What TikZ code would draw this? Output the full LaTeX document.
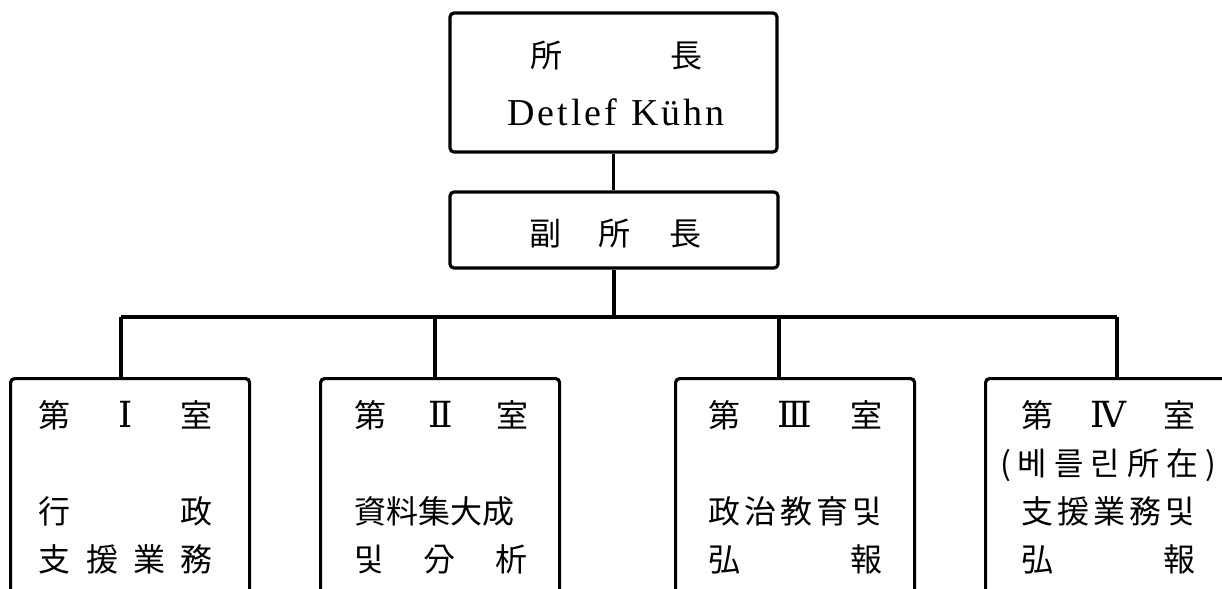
\documentclass[tikz,border=0pt]{standalone}
\usepackage{fontspec}
\newfontfamily\krfont{Noto Sans CJK KR}
\newfontfamily\namefont[LetterSpace=8]{Liberation Serif}
\newfontfamily\numfont{DejaVu Serif}
\usetikzlibrary{positioning}
\newcommand{\spread}[2]{\makebox[#1][s]{#2}}
\newcommand{\roomno}[1]{{\numfont\fontsize{18}{24}\selectfont #1}}
\tikzset{
    frame/.style={
        draw,
        rounded corners=2pt,
        line width=1.6pt,
        inner sep=0pt
    },
    roomframe/.style={
        frame,
        anchor=north west,
        minimum width=119.5pt,
        minimum height=140pt
    },
    label/.style={
        anchor=base,
        align=center,
        inner sep=0pt,
        font=\krfont\fontsize{16}{24}\selectfont
    },
    link/.style={
        line width=1.6pt
    }
}

\begin{document}
\begin{tikzpicture}[x=0.5pt,y=-0.5pt]
\useasboundingbox (0,0) rectangle (1222,589);
\clip (0,0) rectangle (1222,589);
\node[frame,minimum width=163.5pt,minimum height=69.5pt] (head) at (613.5,82.5) {};
\node[frame,minimum width=164pt,minimum height=38pt] (deputy) at (614,230) {};
\node[roomframe] (room1) at (9,377) {};
\node[roomframe] (room2) at (319,377) {};
\node[roomframe] (room3) at (674,377) {};
\node[roomframe,minimum width=140pt] (room4) at (984,377) {};
\node[label,font=\krfont\fontsize{16}{29}\selectfont] (headtext) at (616,125)
  {\spread{86pt}{所\hfill 長}\\{\namefont\fontsize{19}{29}\selectfont Detlef\hspace{7pt}Kühn}};
\node[label] (deputytext) at (615,245) {\spread{86pt}{副\hfill 所\hfill 長}};
\node[label] (room1text) at (126,571)
  {\spread{87pt}{第\hfill\roomno{Ⅰ}\hfill 室}\\[24pt]
   \spread{87pt}{行\hfill 政}\\
   \spread{87pt}{支\hfill 援\hfill 業\hfill 務}};
\node[label] (room2text) at (441,571)
  {\spread{87pt}{第\hfill\roomno{Ⅱ}\hfill 室}\\[24pt]
   \spread{87pt}{資料集大成}\\
   \spread{87pt}{및\hfill 分\hfill 析}};
\node[label] (room3text) at (795,571)
  {\spread{87pt}{第\hfill\roomno{Ⅲ}\hfill 室}\\[24pt]
   \spread{87pt}{政\hfill 治\hfill 教\hfill 育\hfill 및}\\
   \spread{87pt}{弘\hfill 報}};
\node[label] (room4text) at (1108,571)
  {\spread{87pt}{第\hfill\roomno{Ⅳ}\hfill 室}\\
   \spread{108pt}{(\hfill 베\hfill 를\hfill 린\hfill 所\hfill 在\hfill )}\\
   \spread{87pt}{支\hfill 援\hfill 業\hfill 務\hfill 및}\\
   \spread{87pt}{弘\hfill 報}};
\coordinate (busL) at (121,317);
\coordinate (j2) at (435,317);
\coordinate (j3) at (779,317);
\coordinate (busR) at (1117,317);
\draw[link] (head.south) -- (head.south |- deputy.north);
\draw[link] (deputy.south) -- (deputy.south |- busL);
\draw[link] (busL) -- (busR);
\foreach \j/\r in {busL/room1,j2/room2,j3/room3,busR/room4}
  \draw[link] (\j) -- (\j |- \r.north);
\end{tikzpicture}
\end{document}
